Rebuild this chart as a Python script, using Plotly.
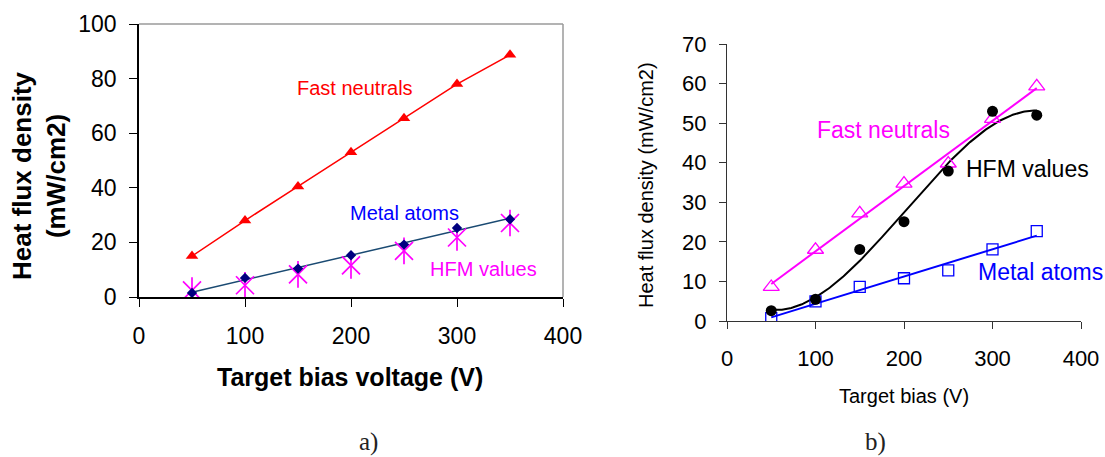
import numpy as np
import plotly.graph_objects as go

# ---------------- data ----------------
bias = [50, 100, 150, 200, 250, 300, 350]

# panel a)
fast_a = [15.0, 28.0, 40.5, 53.0, 65.5, 78.0, 88.7]
metal_a = [1.5, 7.0, 10.4, 15.3, 19.2, 25.3, 28.5]
hfm_a = [2.4, 4.3, 8.3, 11.6, 16.9, 21.8, 27.1]

# panel b)
fast_b = [8.6, 18.0, 27.2, 34.7, 39.8, 51.1, 59.3]
metal_b = [0.75, 4.95, 8.6, 10.8, 12.8, 18.1, 22.7]
hfm_b = [2.6, 5.5, 18.1, 25.1, 37.9, 53.0, 52.0]

x_ticks = [0, 100, 200, 300, 400]
y_ticks_a = [0, 20, 40, 60, 80, 100]
y_ticks_b = [0, 10, 20, 30, 40, 50, 60, 70]

FONT = "Liberation Sans, Arial, sans-serif"
W, H = 1105, 457

fig = go.Figure()

# ---------- panel a ----------
xa = np.array([bias[0], bias[-1]], dtype=float)
ca = np.polyfit(bias, metal_a, 1)
fig.add_trace(go.Scatter(x=xa, y=np.polyval(ca, xa), mode="lines",
                         line=dict(color="#1A4A72", width=1.5),
                         xaxis="x", yaxis="y", hoverinfo="skip"))
fig.add_trace(go.Scatter(x=bias, y=fast_a, mode="lines+markers",
                         line=dict(color="#FF0000", width=1.5),
                         marker=dict(symbol="triangle-up", size=11, color="#FF0000"),
                         xaxis="x", yaxis="y"))
# HFM asterisks (X plus vertical stroke)
fig.add_trace(go.Scatter(x=bias, y=hfm_a, mode="markers",
                         marker=dict(symbol="x-thin-open", size=18, color="#FF00FF",
                                     line=dict(color="#FF00FF", width=1.7)),
                         xaxis="x", yaxis="y"))
fig.add_trace(go.Scatter(x=bias, y=hfm_a, mode="markers",
                         marker=dict(symbol="line-ns-open", size=19, color="#FF00FF",
                                     line=dict(color="#FF00FF", width=1.7)),
                         xaxis="x", yaxis="y", hoverinfo="skip"))
fig.add_trace(go.Scatter(x=bias, y=metal_a, mode="markers",
                         marker=dict(symbol="diamond", size=8, color="#000080"),
                         xaxis="x", yaxis="y"))

# ---------- panel b ----------
xb_lin = np.array([bias[0], bias[-1]], dtype=float)
cf = np.polyfit(bias, fast_b, 1)
cm = np.polyfit(bias, metal_b, 1)
ch = np.polyfit(bias, hfm_b, 3)
xb_curve = np.linspace(bias[0], bias[-1], 200)

fig.add_trace(go.Scatter(x=xb_lin, y=np.polyval(cf, xb_lin), mode="lines",
                         line=dict(color="#FF00FF", width=2),
                         xaxis="x2", yaxis="y2", hoverinfo="skip"))
fig.add_trace(go.Scatter(x=xb_lin, y=np.polyval(cm, xb_lin), mode="lines",
                         line=dict(color="#0000FF", width=2),
                         xaxis="x2", yaxis="y2", hoverinfo="skip"))
fig.add_trace(go.Scatter(x=xb_curve, y=np.polyval(ch, xb_curve), mode="lines",
                         line=dict(color="#000000", width=2),
                         xaxis="x2", yaxis="y2", hoverinfo="skip"))
fig.add_trace(go.Scatter(x=bias, y=fast_b, mode="markers",
                         marker=dict(symbol="triangle-up-open", size=14, color="#FF00FF",
                                     line=dict(color="#FF00FF", width=1.3)),
                         xaxis="x2", yaxis="y2"))
fig.add_trace(go.Scatter(x=bias, y=metal_b, mode="markers",
                         marker=dict(symbol="square-open", size=11, color="#0000FF",
                                     line=dict(color="#0000FF", width=1.3)),
                         xaxis="x2", yaxis="y2"))
fig.add_trace(go.Scatter(x=bias, y=hfm_b, mode="markers",
                         marker=dict(symbol="circle", size=11, color="#000000"),
                         xaxis="x2", yaxis="y2"))


def px_x(p):
    return p / W


def px_y(p):
    return (H - p) / H


axis_common = dict(showgrid=False, zeroline=False, showline=True, automargin=False,
                   ticks="outside", tickcolor="#000000", linecolor="#000000",
                   tickfont=dict(family=FONT, size=23, color="#000000"))

fig.update_layout(
    template="none",
    width=W, height=H,
    margin=dict(l=0, r=0, t=0, b=0, pad=0, autoexpand=False),
    paper_bgcolor="white", plot_bgcolor="white",
    showlegend=False,
    xaxis=dict(domain=[px_x(139), px_x(563)], range=[0, 400], tickvals=x_ticks,
               anchor="y", ticklen=8, linewidth=1.5, ticklabelstandoff=10,
               **axis_common),
    yaxis=dict(domain=[px_y(297), px_y(24)], range=[0, 100], tickvals=y_ticks_a,
               anchor="x", ticklen=8, linewidth=1.5, ticklabelstandoff=8,
               **axis_common),
    xaxis2=dict(domain=[px_x(727), px_x(1081)], range=[0, 400], tickvals=x_ticks,
                anchor="y2", ticklen=7, linewidth=1.3, ticklabelstandoff=10,
                **{**axis_common, "linecolor": "#333333", "tickcolor": "#333333",
                   "tickfont": dict(family=FONT, size=22, color="#000000")}),
    yaxis2=dict(domain=[px_y(321), px_y(44)], range=[0, 70], tickvals=y_ticks_b,
                anchor="x2", ticklen=7, linewidth=1.3, ticklabelstandoff=8,
                **{**axis_common, "linecolor": "#333333", "tickcolor": "#333333",
                   "tickfont": dict(family=FONT, size=22, color="#000000")}),
)

# gray box (top & right) of panel a
fig.add_shape(type="line", xref="x domain", yref="y domain", x0=0, x1=1, y0=1, y1=1,
              line=dict(color="#9A9A9A", width=1.5))
fig.add_shape(type="line", xref="x domain", yref="y domain", x0=1, x1=1, y0=0, y1=1,
              line=dict(color="#9A9A9A", width=1.5))

C = dict(showarrow=False, xanchor="center", yanchor="middle")
ann = []
ann.append(dict(text="<b>Target bias voltage (V)</b>", x=px_x(350), y=px_y(377),
                xref="paper", yref="paper", **C,
                font=dict(family=FONT, size=25, color="#000000")))
ann.append(dict(text="<b>Heat flux density<br>(mW/cm2)</b>", x=px_x(39), y=px_y(176),
                xref="paper", yref="paper", textangle=-90, **C,
                font=dict(family=FONT, size=26, color="#000000")))
ann.append(dict(text="Target bias (V)", x=px_x(904), y=px_y(396),
                xref="paper", yref="paper", **C,
                font=dict(family=FONT, size=20, color="#000000")))
ann.append(dict(text="Heat flux density (mW/cm2)", x=px_x(646), y=px_y(185),
                xref="paper", yref="paper", textangle=-90, **C,
                font=dict(family=FONT, size=20, color="#000000")))
ann.append(dict(text="a)", x=px_x(368), y=px_y(442), xref="paper", yref="paper", **C,
                font=dict(family="Liberation Serif, serif", size=25, color="#222222")))
ann.append(dict(text="b)", x=px_x(875), y=px_y(442), xref="paper", yref="paper", **C,
                font=dict(family="Liberation Serif, serif", size=25, color="#222222")))
ann.append(dict(text="Fast neutrals", x=204, y=76.4, xref="x", yref="y", **C,
                font=dict(family=FONT, size=20, color="#FF0000")))
ann.append(dict(text="Metal atoms", x=250, y=30.8, xref="x", yref="y", **C,
                font=dict(family=FONT, size=20, color="#0000FF")))
ann.append(dict(text="HFM values", x=324.6, y=10.4, xref="x", yref="y", **C,
                font=dict(family=FONT, size=20, color="#FF00FF")))
ann.append(dict(text="Fast neutrals", x=176.5, y=48.2, xref="x2", yref="y2", **C,
                font=dict(family=FONT, size=23, color="#FF00FF")))
ann.append(dict(text="HFM values", x=340, y=38.3, xref="x2", yref="y2", **C,
                font=dict(family=FONT, size=23, color="#000000")))
ann.append(dict(text="Metal atoms", x=353.7, y=12.5, xref="x2", yref="y2", **C,
                font=dict(family=FONT, size=23, color="#0000FF")))
fig.update_layout(annotations=ann)

fig.write_html("out.html", config={"displayModeBar": False},
               post_script="document.body.style.margin='0';document.body.style.overflow='hidden';")
